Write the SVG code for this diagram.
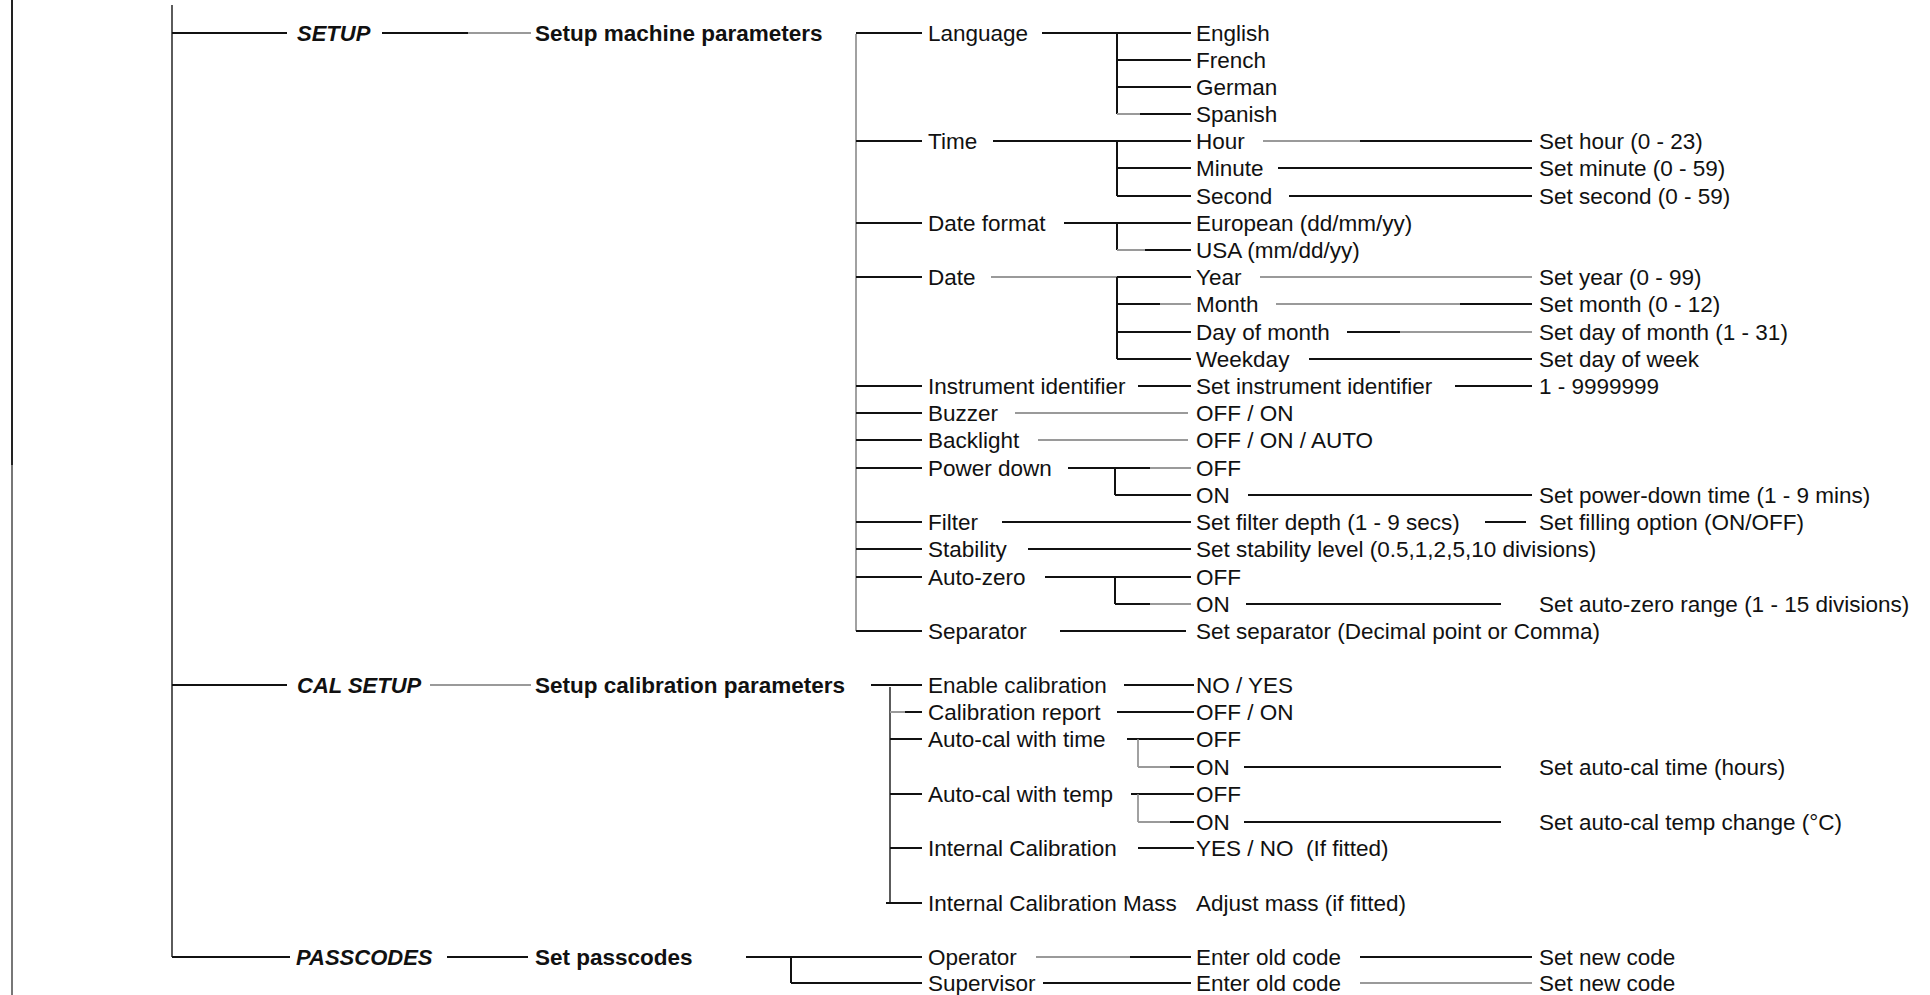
<svg xmlns="http://www.w3.org/2000/svg" width="1930" height="995" viewBox="0 0 1930 995">
<style>
text{font-family:"Liberation Sans",Arial,sans-serif;font-size:22.5px;fill:#111}
.b{font-weight:bold;font-size:22.5px}
.bi{font-weight:bold;font-style:italic;font-size:22px}
.k{stroke:#111;stroke-width:2;fill:none}
.g{stroke:#9a9a9a;stroke-width:2;fill:none}
.v{stroke:#333;stroke-width:1.6;fill:none}
.vg{stroke:#8a8a8a;stroke-width:1.6;fill:none}
</style>
<rect width="1930" height="995" fill="#fff"/>
<g id="connectors">
<line x1="12" y1="0" x2="12" y2="995" stroke="#777" stroke-width="2"/>
<line x1="12" y1="0" x2="12" y2="465" stroke="#222" stroke-width="2"/>
<path class="v" d="M172 5V957"/>
<!-- SETUP -->
<path class="k" d="M172 33H287M382 33H468"/>
<path class="g" d="M468 33H531"/>
<path class="vg" d="M856 34V631"/>
<path class="k" d="M856 33H922M856 141H922M856 223H922M856 277H922M856 386H922M856 413H922M856 440H922M856 468H922M856 522H922M856 549H922M856 577H922M856 631H922"/>
<path class="k" d="M1042 33H1191M1117 33V114M1117 60H1191M1117 87H1191M1140 114H1191"/>
<path class="g" d="M1117 114H1140"/>
<path class="k" d="M993 141H1191M1117 141V196M1117 168H1191M1117 196H1191"/>
<path class="g" d="M1263 141H1360"/>
<path class="k" d="M1360 141H1532M1278 168H1532M1289 196H1532"/>
<path class="k" d="M1064 223H1191M1117 223V250M1145 250H1191"/>
<path class="g" d="M1117 250H1145"/>
<path class="g" d="M991 277H1117"/>
<path class="k" d="M1117 277H1191M1117 277V359M1117 304H1160M1117 332H1191M1117 359H1191"/>
<path class="g" d="M1160 304H1191M1260 277H1532M1276 304H1460M1400 332H1532"/>
<path class="k" d="M1460 304H1532M1347 332H1400M1309 359H1532"/>
<path class="k" d="M1138 386H1191M1455 386H1532"/>
<path class="g" d="M1015 413H1188M1038 440H1188"/>
<path class="k" d="M1068 468H1150M1115 468V495M1115 495H1191M1248 495H1532"/>
<path class="g" d="M1150 468H1191"/>
<path class="k" d="M1002 522H1191M1485 522H1526M1028 549H1191"/>
<path class="k" d="M1045 577H1191M1115 577V604M1115 604H1150M1246 604H1501"/>
<path class="g" d="M1150 604H1191"/>
<path class="k" d="M1060 631H1186"/>
<!-- CAL SETUP -->
<path class="k" d="M172 685H287"/>
<path class="g" d="M430 685H531"/>
<path class="v" d="M890 687V903"/>
<path class="k" d="M871 685H922M1124 685H1194"/>
<path class="g" d="M890 712H905"/>
<path class="k" d="M905 712H922M1117 712H1194"/>
<path class="k" d="M890 739H922M1127 739H1194M1244 767H1501"/>
<path class="vg" d="M1138 739V767"/>
<path class="g" d="M1138 767H1170"/>
<path class="k" d="M1170 767H1194"/>
<path class="k" d="M890 794H922M1131 794H1194M1244 822H1501"/>
<path class="vg" d="M1138 794V822"/>
<path class="g" d="M1138 822H1170"/>
<path class="k" d="M1170 822H1194"/>
<path class="k" d="M890 848H922M1138 848H1194M886 903H922"/>
<!-- PASSCODES -->
<path class="k" d="M172 957H290M447 957H528M746 957H922M791 958V983M791 983H922"/>
<path class="g" d="M1036 957H1130"/>
<path class="k" d="M1130 957H1191M1360 957H1532M1043 983H1191"/>
<path class="g" d="M1360 983H1532"/>
</g>
<g id="n-setup"><text class="bi" x="297" y="41">SETUP</text></g>
<g id="n-setup-machine"><text class="b" x="535" y="41">Setup machine parameters</text></g>
<g id="n-language"><text x="928" y="41">Language</text></g>
<g id="n-english"><text x="1196" y="41">English</text></g>
<g id="n-french"><text x="1196" y="68">French</text></g>
<g id="n-german"><text x="1196" y="95">German</text></g>
<g id="n-spanish"><text x="1196" y="122">Spanish</text></g>
<g id="n-time"><text x="928" y="149">Time</text></g>
<g id="n-hour"><text x="1196" y="149">Hour</text></g>
<g id="n-set-hour"><text x="1539" y="149">Set hour (0 - 23)</text></g>
<g id="n-minute"><text x="1196" y="176">Minute</text></g>
<g id="n-set-minute"><text x="1539" y="176">Set minute (0 - 59)</text></g>
<g id="n-second"><text x="1196" y="204">Second</text></g>
<g id="n-set-second"><text x="1539" y="204">Set second (0 - 59)</text></g>
<g id="n-date-format"><text x="928" y="231">Date format</text></g>
<g id="n-european"><text x="1196" y="231">European (dd/mm/yy)</text></g>
<g id="n-usa"><text x="1196" y="258">USA (mm/dd/yy)</text></g>
<g id="n-date"><text x="928" y="285">Date</text></g>
<g id="n-year"><text x="1196" y="285">Year</text></g>
<g id="n-set-year"><text x="1539" y="285">Set year (0 - 99)</text></g>
<g id="n-month"><text x="1196" y="312">Month</text></g>
<g id="n-set-month"><text x="1539" y="312">Set month (0 - 12)</text></g>
<g id="n-day"><text x="1196" y="340">Day of month</text></g>
<g id="n-set-day"><text x="1539" y="340">Set day of month (1 - 31)</text></g>
<g id="n-weekday"><text x="1196" y="367">Weekday</text></g>
<g id="n-set-weekday"><text x="1539" y="367">Set day of week</text></g>
<g id="n-instrument"><text x="928" y="394">Instrument identifier</text></g>
<g id="n-set-instrument"><text x="1196" y="394">Set instrument identifier</text></g>
<g id="n-instr-range"><text x="1539" y="394">1 - 9999999</text></g>
<g id="n-buzzer"><text x="928" y="421">Buzzer</text></g>
<g id="n-buzzer-val"><text x="1196" y="421">OFF / ON</text></g>
<g id="n-backlight"><text x="928" y="448">Backlight</text></g>
<g id="n-backlight-val"><text x="1196" y="448">OFF / ON / AUTO</text></g>
<g id="n-powerdown"><text x="928" y="476">Power down</text></g>
<g id="n-pd-off"><text x="1196" y="476">OFF</text></g>
<g id="n-pd-on"><text x="1196" y="503">ON</text></g>
<g id="n-pd-time"><text x="1539" y="503">Set power-down time (1 - 9 mins)</text></g>
<g id="n-filter"><text x="928" y="530">Filter</text></g>
<g id="n-filter-depth"><text x="1196" y="530">Set filter depth (1 - 9 secs)</text></g>
<g id="n-filling"><text x="1539" y="530">Set filling option (ON/OFF)</text></g>
<g id="n-stability"><text x="928" y="557">Stability</text></g>
<g id="n-stability-val"><text x="1196" y="557">Set stability level (0.5,1,2,5,10 divisions)</text></g>
<g id="n-autozero"><text x="928" y="585">Auto-zero</text></g>
<g id="n-az-off"><text x="1196" y="585">OFF</text></g>
<g id="n-az-on"><text x="1196" y="612">ON</text></g>
<g id="n-az-range"><text x="1539" y="612">Set auto-zero range (1 - 15 divisions)</text></g>
<g id="n-separator"><text x="928" y="639">Separator</text></g>
<g id="n-separator-val"><text x="1196" y="639">Set separator (Decimal point or Comma)</text></g>
<g id="n-cal-setup"><text class="bi" x="297" y="693">CAL SETUP</text></g>
<g id="n-setup-cal"><text class="b" x="535" y="693">Setup calibration parameters</text></g>
<g id="n-enable-cal"><text x="928" y="693">Enable calibration</text></g>
<g id="n-enable-val"><text x="1196" y="693">NO / YES</text></g>
<g id="n-cal-report"><text x="928" y="720">Calibration report</text></g>
<g id="n-report-val"><text x="1196" y="720">OFF / ON</text></g>
<g id="n-acal-time"><text x="928" y="747">Auto-cal with time</text></g>
<g id="n-acal-time-off"><text x="1196" y="747">OFF</text></g>
<g id="n-acal-time-on"><text x="1196" y="775">ON</text></g>
<g id="n-acal-time-set"><text x="1539" y="775">Set auto-cal time (hours)</text></g>
<g id="n-acal-temp"><text x="928" y="802">Auto-cal with temp</text></g>
<g id="n-acal-temp-off"><text x="1196" y="802">OFF</text></g>
<g id="n-acal-temp-on"><text x="1196" y="830">ON</text></g>
<g id="n-acal-temp-set"><text x="1539" y="830">Set auto-cal temp change (°C)</text></g>
<g id="n-int-cal"><text x="928" y="856">Internal Calibration</text></g>
<g id="n-int-cal-val"><text x="1196" y="856" xml:space="preserve">YES / NO  (If fitted)</text></g>
<g id="n-int-cal-mass"><text x="928" y="911">Internal Calibration Mass</text></g>
<g id="n-adjust-mass"><text x="1196" y="911">Adjust mass (if fitted)</text></g>
<g id="n-passcodes"><text class="bi" x="296" y="965">PASSCODES</text></g>
<g id="n-set-passcodes"><text class="b" x="535" y="965">Set passcodes</text></g>
<g id="n-operator"><text x="928" y="965">Operator</text></g>
<g id="n-op-old"><text x="1196" y="965">Enter old code</text></g>
<g id="n-op-new"><text x="1539" y="965">Set new code</text></g>
<g id="n-supervisor"><text x="928" y="991">Supervisor</text></g>
<g id="n-sup-old"><text x="1196" y="991">Enter old code</text></g>
<g id="n-sup-new"><text x="1539" y="991">Set new code</text></g>
</svg>
